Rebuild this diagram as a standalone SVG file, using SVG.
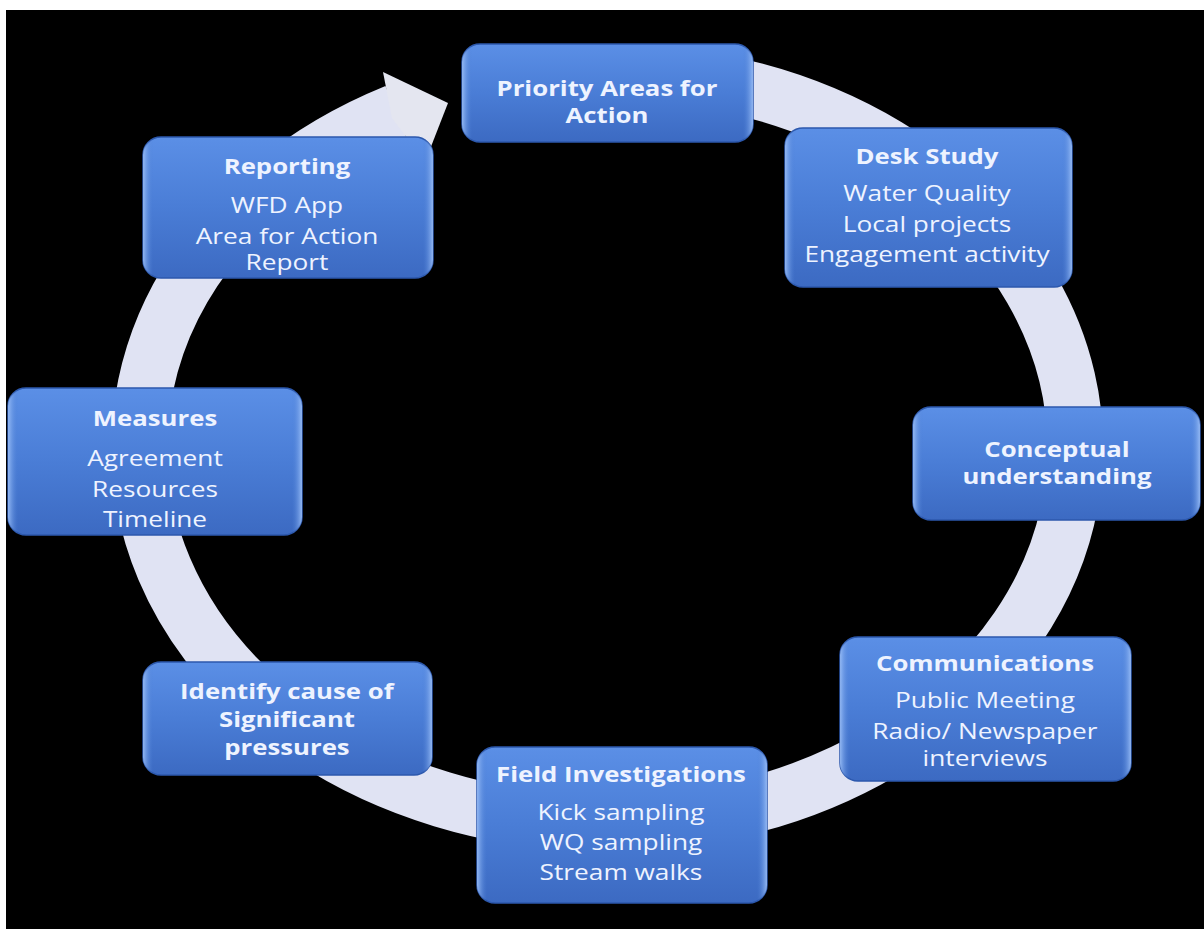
<svg xmlns="http://www.w3.org/2000/svg" width="1204" height="929" viewBox="0 0 1204 929">
<defs>
<linearGradient id="boxg" x1="0" y1="0" x2="0" y2="1">
<stop offset="0" stop-color="#5b8fe6"/>
<stop offset="0.5" stop-color="#4a7dd6"/>
<stop offset="1" stop-color="#3c6ac2"/>
</linearGradient>
<linearGradient id="edge" x1="0" y1="0" x2="1" y2="0">
<stop offset="0" stop-color="#9cc0f8" stop-opacity="0.9"/>
<stop offset="0.035" stop-color="#4a7dd4" stop-opacity="0"/>
<stop offset="0.965" stop-color="#4a7dd4" stop-opacity="0"/>
<stop offset="1" stop-color="#9cc0f8" stop-opacity="0.9"/>
</linearGradient>
<style>
.box{fill:url(#boxg);stroke:#2c58ad;stroke-width:1.5}
.hl{fill:url(#edge)}
.h,.t{font-family:"Open Sans","Liberation Sans",sans-serif;fill:#eef3ff;text-anchor:middle;transform-box:fill-box;transform-origin:center}
.h{font-weight:bold;font-size:22px;transform:scaleX(1.17)}
.t{font-size:21px;transform:scaleX(1.25)}
.ring{fill:none;stroke:#e0e3f3;stroke-width:56}
</style>
</defs>
<rect x="0" y="0" width="1204" height="929" fill="#ffffff"/>
<rect x="6" y="10" width="1198" height="919" fill="#000000"/>
<g id="connectors">
<path class="ring" d="M700,79 A468,376 0 1 1 396,112"/>
<polygon points="383,72 448,103 425,162 392,118" fill="#e4e6f0"/>
</g>
<g id="priority">
<rect class="box" x="462" y="44" width="291" height="98" rx="18"/>
<rect class="hl" x="462" y="44" width="291" height="98" rx="18"/>
<text class="h" x="607" y="96">Priority Areas for</text>
<text class="h" x="607" y="123">Action</text>
</g>
<g id="desk">
<rect class="box" x="785" y="128" width="287" height="159" rx="18"/>
<rect class="hl" x="785" y="128" width="287" height="159" rx="18"/>
<text class="h" x="927" y="164">Desk Study</text>
<text class="t" x="927" y="201">Water Quality</text>
<text class="t" x="927" y="232">Local projects</text>
<text class="t" x="927" y="262">Engagement activity</text>
</g>
<g id="conceptual">
<rect class="box" x="913" y="407" width="287" height="113" rx="18"/>
<rect class="hl" x="913" y="407" width="287" height="113" rx="18"/>
<text class="h" x="1057" y="457">Conceptual</text>
<text class="h" x="1057" y="484">understanding</text>
</g>
<g id="communications">
<rect class="box" x="840" y="637" width="291" height="144" rx="18"/>
<rect class="hl" x="840" y="637" width="291" height="144" rx="18"/>
<text class="h" x="985" y="671">Communications</text>
<text class="t" x="985" y="708">Public Meeting</text>
<text class="t" x="985" y="739">Radio/ Newspaper</text>
<text class="t" x="985" y="766">interviews</text>
</g>
<g id="field">
<rect class="box" x="477" y="747" width="290" height="156" rx="18"/>
<rect class="hl" x="477" y="747" width="290" height="156" rx="18"/>
<text class="h" x="621" y="782">Field Investigations</text>
<text class="t" x="621" y="820">Kick sampling</text>
<text class="t" x="621" y="850">WQ sampling</text>
<text class="t" x="621" y="880">Stream walks</text>
</g>
<g id="identify">
<rect class="box" x="143" y="662" width="289" height="113" rx="18"/>
<rect class="hl" x="143" y="662" width="289" height="113" rx="18"/>
<text class="h" x="287" y="699">Identify cause of</text>
<text class="h" x="287" y="727">Significant</text>
<text class="h" x="287" y="755">pressures</text>
</g>
<g id="measures">
<rect class="box" x="8" y="388" width="294" height="147" rx="18"/>
<rect class="hl" x="8" y="388" width="294" height="147" rx="18"/>
<text class="h" x="155" y="426">Measures</text>
<text class="t" x="155" y="466">Agreement</text>
<text class="t" x="155" y="497">Resources</text>
<text class="t" x="155" y="527">Timeline</text>
</g>
<g id="reporting">
<rect class="box" x="143" y="137" width="290" height="141" rx="18"/>
<rect class="hl" x="143" y="137" width="290" height="141" rx="18"/>
<text class="h" x="287" y="174">Reporting</text>
<text class="t" x="287" y="213">WFD App</text>
<text class="t" x="287" y="244">Area for Action</text>
<text class="t" x="287" y="270">Report</text>
</g>
</svg>
